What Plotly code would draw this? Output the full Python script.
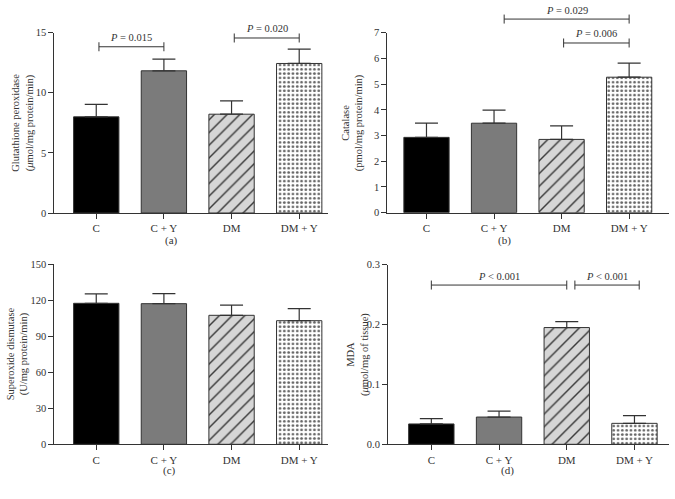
import plotly.graph_objects as go

categories = ["C", "C + Y", "DM", "DM + Y"]

# (a) Glutathione peroxidase
gpx_mean = [8.0, 11.83, 8.22, 12.44]
gpx_err = [1.03, 0.97, 1.11, 1.20]
# (b) Catalase
cat_mean = [2.93, 3.48, 2.85, 5.27]
cat_err = [0.55, 0.51, 0.53, 0.55]
# (c) Superoxide dismutase
sod_mean = [117.5, 117.2, 107.5, 103.0]
sod_err = [7.8, 8.3, 8.5, 10.0]
# (d) MDA
mda_mean = [0.034, 0.0455, 0.195, 0.035]
mda_err = [0.009, 0.010, 0.010, 0.013]

y_titles = [
    "Glutathione peroxidase<br>(<i>μ</i>mol/mg protein/min)",
    "Catalase<br>(pmol/mg protein/min)",
    "Superoxide dismutase<br>(U/mg protein/min)",
    "MDA<br>(<i>μ</i>mol/mg of tissue)",
]
captions = ["(a)", "(b)", "(c)", "(d)"]

# significance brackets: (panel, x start, x end, y level, label)
brackets = [
    (0, 0.04, 1.0, 13.83, "<i>P</i> = 0.015"),
    (0, 2.04, 3.0, 14.56, "<i>P</i> = 0.020"),
    (1, 1.15, 3.0, 7.53, "<i>P</i> = 0.029"),
    (1, 2.03, 3.0, 6.60, "<i>P</i> = 0.006"),
    (3, 0.0, 2.0, 0.266, "<i>P</i> < 0.001"),
    (3, 2.12, 3.07, 0.266, "<i>P</i> < 0.001"),
]

W, H = 675, 499
FONT = "Liberation Serif"
INK = "#333333"

panels = [
    dict(mean=gpx_mean, err=gpx_err, yrange=[0, 15], dtick=5, fmt="",
         xpx=[54.3, 328.3], ypx=[32.7, 213.0], xr=[-0.62, 3.43],
         title_x=23.0, cap=(171, 241)),
    dict(mean=cat_mean, err=cat_err, yrange=[0, 7], dtick=1, fmt="",
         xpx=[387.3, 669.0], ypx=[32.7, 212.7], xr=[-0.58, 3.59],
         title_x=352.5, cap=(504.7, 240)),
    dict(mean=sod_mean, err=sod_err, yrange=[0, 150], dtick=30, fmt="",
         xpx=[54.3, 328.3], ypx=[264.3, 444.3], xr=[-0.62, 3.43],
         title_x=18.0, cap=(169.3, 470)),
    dict(mean=mda_mean, err=mda_err, yrange=[0, 0.3], dtick=0.1, fmt=".1f",
         xpx=[388.0, 669.0], ypx=[264.7, 444.3], xr=[-0.64, 3.51],
         title_x=357.5, cap=(507.3, 470)),
]

# per-group bar styles
bar_colors = ["#000000", "#7b7b7b", "#d6d6d6", "#ffffff"]
pat_shapes = ["", "", "/", "."]
pat_fg = ["#000000", "#7b7b7b", "#3a3a3a", "#666666"]
pat_size = [8, 8, 9, 4.3]
pat_sol = [0.3, 0.3, 0.16, 0.32]

fig = go.Figure()
layout = dict(
    width=W, height=H, margin=dict(l=0, r=0, t=0, b=0, autoexpand=False),
    paper_bgcolor="white", plot_bgcolor="white", showlegend=False,
    barmode="overlay",
    font=dict(family=FONT, color=INK, size=11),
)
annotations = []
shapes = []

for i, p in enumerate(panels):
    n = "" if i == 0 else str(i + 1)
    xa, ya = "x" + n, "y" + n
    for j, cat in enumerate(categories):
        fig.add_trace(go.Bar(
            x=[cat], y=[p["mean"][j]], xaxis=xa, yaxis=ya, width=0.67,
            marker=dict(color=bar_colors[j], line=dict(color=INK, width=1),
                        pattern=dict(shape=pat_shapes[j], fgcolor=pat_fg[j],
                                     bgcolor=bar_colors[j], size=pat_size[j],
                                     solidity=pat_sol[j], fillmode="replace",
                                     fgopacity=1)),
            error_y=dict(type="data", symmetric=False, array=[p["err"][j]],
                         arrayminus=[0], color=INK, thickness=1.2, width=11.5),
        ))
    layout["xaxis" + n] = dict(
        domain=[p["xpx"][0] / W, p["xpx"][1] / W], anchor=ya, type="category",
        categoryorder="array", categoryarray=categories,
        range=p["xr"], showline=True, linecolor=INK, linewidth=1, automargin=False,
        ticks="outside", ticklen=5, tickcolor=INK, showgrid=False, zeroline=False,
        tickfont=dict(size=11, family=FONT, color=INK),
    )
    layout["yaxis" + n] = dict(
        domain=[1 - p["ypx"][1] / H, 1 - p["ypx"][0] / H], anchor=xa,
        range=p["yrange"], dtick=p["dtick"], tick0=0, tickformat=p["fmt"],
        showline=True, linecolor=INK, linewidth=1, automargin=False,
        ticks="outside", ticklen=5, tickcolor=INK, showgrid=False, zeroline=False,
        tickfont=dict(size=10.5, family=FONT, color=INK),
    )
    ymid = 1 - (p["ypx"][0] + p["ypx"][1]) / 2 / H
    annotations.append(dict(
        text=y_titles[i], xref="paper", yref="paper", x=p["title_x"] / W, y=ymid,
        xanchor="center", yanchor="middle", textangle=-90, showarrow=False,
        font=dict(size=10.5, family=FONT, color=INK),
    ))
    annotations.append(dict(
        text=captions[i], xref="paper", yref="paper", x=p["cap"][0] / W,
        y=1 - p["cap"][1] / H, xanchor="center", yanchor="middle", showarrow=False,
        font=dict(size=11, family=FONT, color=INK),
    ))

for (pi, x0, x1, yv, label) in brackets:
    p = panels[pi]
    n = "" if pi == 0 else str(pi + 1)
    xa, ya = "x" + n, "y" + n
    yf = (yv - p["yrange"][0]) / (p["yrange"][1] - p["yrange"][0])
    shapes.append(dict(type="line", xref=xa, yref=ya + " domain", x0=x0, x1=x1,
                       y0=yf, y1=yf, line=dict(color=INK, width=1)))
    for xe in (x0, x1):
        shapes.append(dict(type="line", xref=xa, yref=ya + " domain", x0=xe, x1=xe,
                           ysizemode="pixel", yanchor=yf, y0=-4.5, y1=4.5,
                           line=dict(color=INK, width=1)))
    annotations.append(dict(
        text=label, xref=xa, yref=ya + " domain", x=(x0 + x1) / 2, y=yf,
        xanchor="center", yanchor="middle", yshift=9, showarrow=False,
        font=dict(size=10.5, family=FONT, color=INK),
    ))

layout["annotations"] = annotations
layout["shapes"] = shapes
fig.update_layout(**layout)
fig.write_html(
    "out.html",
    config={"displayModeBar": False},
    post_script="document.body.style.margin='0';document.body.style.overflow='hidden';",
)
